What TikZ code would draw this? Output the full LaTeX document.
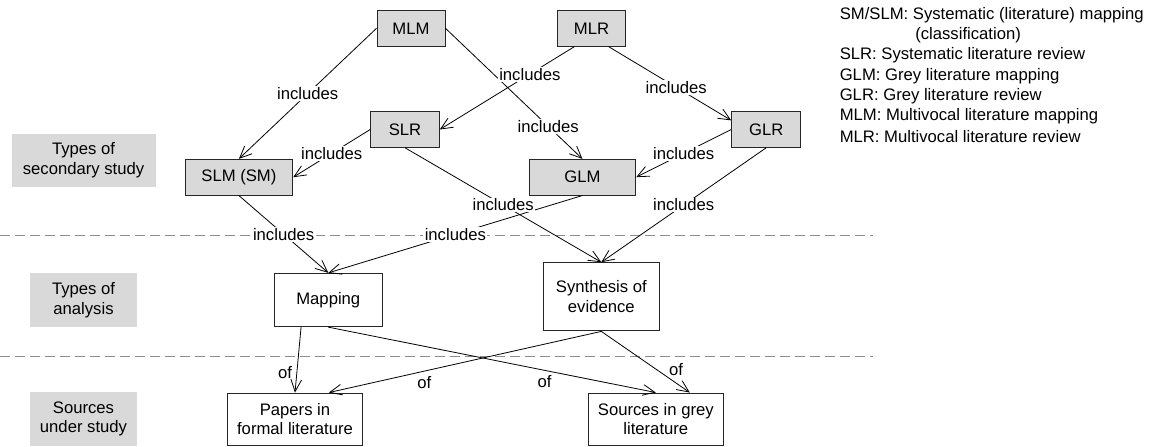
\documentclass[tikz,border=0pt]{standalone}
\usepackage{fontspec}
\setmainfont{Liberation Sans}
\usetikzlibrary{arrows.meta,calc,positioning}
\tikzset{
  study/.style={draw=black!85, fill=black!15, line width=0.7pt, minimum height=27pt, inner sep=2pt},
  analysis/.style={draw=black!85, fill=white, line width=0.7pt, align=center, inner sep=2pt},
  level/.style={fill=black!15, align=center, minimum height=40pt, inner sep=2pt},
  rel/.style={line width=0.6pt, -{Straight Barb[length=9pt,width=8pt]}},
  lbl/.style={fill=white, inner sep=1pt},
  sep/.style={dash pattern=on 7.5pt off 3.75pt, black!45, line width=0.7pt},
  legend/.style={anchor=west, inner sep=0pt},
}
\begin{document}
\begin{tikzpicture}[x=0.75pt, y=-0.75pt, font=\fontsize{12.5}{14.7}\selectfont]
			\useasboundingbox (0,0) rectangle (1151,446);
			
			% separators between the levels
			\draw[sep] (0,235.7) -- (873,235.7);
			\draw[sep] (0,356.7) -- (873,356.7);
			
			% level names
			\node[level, minimum width=108pt] (lsec) at (83.5,160.3) {Types of\\secondary study};
			\node[level, minimum width=80pt] (lana) at (83.5,300) {Types of\\analysis};
			\node[level, minimum width=80pt] (lsrc) at (83.5,419) {Sources\\under study};
			
			% secondary studies
			\node[study, minimum width=51pt] (mlm) at (411,28.3) {MLM};
			\node[study, minimum width=51.3pt] (mlr) at (591.5,28.3) {MLR};
			\node[study, minimum width=51.5pt, minimum height=26.7pt] (slr) at (405,129.5) {SLR};
			\node[study, minimum width=51.8pt, minimum height=26.7pt] (glr) at (766.2,129.5) {GLR};
			\node[study, minimum width=80.8pt, minimum height=26.8pt] (slm) at (238.9,177.2) {SLM (SM)};
			\node[study, minimum width=80pt, minimum height=26.8pt] (glm) at (582.4,177.2) {GLM};
			
			% analyses
			\node[analysis, minimum width=81pt, minimum height=40pt] (map) at (328.3,300) {Mapping};
			\node[analysis, minimum width=86.5pt, minimum height=51.2pt] (syn) at (601.3,296.8) {Synthesis of\\evidence};
			
			% sources
			\node[analysis, minimum width=101pt, minimum height=39pt] (pap) at (295,419) {Papers in\\formal literature};
			\node[analysis, minimum width=101.3pt, minimum height=39pt] (grey) at (655.8,419) {Sources in grey\\literature};
			
			% includes
			\draw[rel] (mlm.west) -- node[lbl] {includes} (slm.north);
			\draw[rel] (mlm.east) -- node[lbl, pos=0.75] {includes} (glm.north);
			\draw[rel] ($(mlr.south west)!.25!(mlr.south east)$) -- node[lbl, pos=0.33] {includes} (slr.east);
			\draw[rel] ($(mlr.south west)!.75!(mlr.south east)$) -- node[lbl, pos=0.55] {includes} ($(glr.north west)!.25!(glr.south west)$);
			\draw[rel] (slr.west) -- node[lbl] {includes} (slm.east);
			\draw[rel] (glr.west) -- node[lbl] {includes} (glm.east);
			\draw[rel] (slm.south) -- node[lbl] {includes} (map.north);
			\draw[rel] (glm.south) -- node[lbl] {includes} (map.north);
			\draw[rel] (slr.south) -- node[lbl] {includes} (syn.north);
			\draw[rel] (glr.south) -- node[lbl] {includes} (syn.north);
			
			% of
			\draw[rel] ($(map.south west)!.25!(map.south east)$) -- node[pos=0.7, left] {of} (pap.north);
			\draw[rel] (map.south) -- node[pos=0.66, below] {of} (grey.north);
			\draw[rel] (syn.south) -- node[pos=0.65, below] {of} ($(pap.north west)!.75!(pap.north east)$);
			\draw[rel] (syn.south) -- node[pos=0.62, right=6pt] {of} ($(grey.north west)!.75!(grey.north east)$);
			
			% abbreviations
			\node[legend] (k1) at (839.5,15) {SM/SLM: Systematic (literature) mapping};
			\node[legend] (k2) at (915,35.3) {(classification)};
			\node[legend] (k3) at (839.5,55.6) {SLR: Systematic literature review};
			\node[legend] (k4) at (839.5,76) {GLM: Grey literature mapping};
			\node[legend] (k5) at (839.5,96.3) {GLR: Grey literature review};
			\node[legend] (k6) at (839.5,116.6) {MLM: Multivocal literature mapping};
			\node[legend] (k7) at (839.5,137) {MLR: Multivocal literature review};
			
		\end{tikzpicture}
\end{document}
